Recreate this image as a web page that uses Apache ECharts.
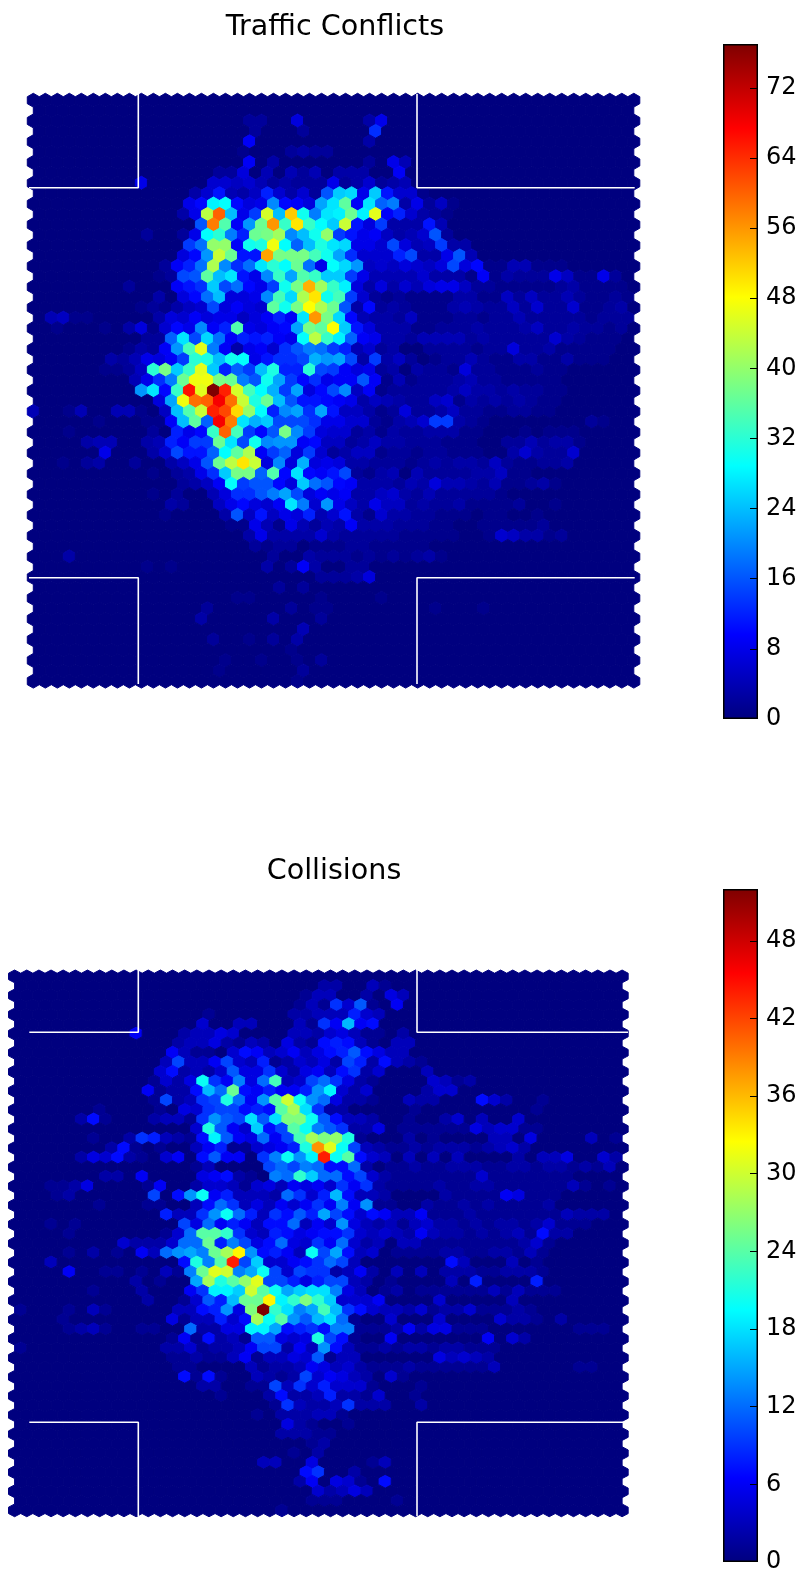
<!DOCTYPE html>
<html>
<head>
<meta charset="utf-8">
<style>html,body{margin:0;padding:0;background:#fff}#chart{width:800px;height:1574px}</style>
<script src="https://cdn.jsdelivr.net/npm/echarts@6/dist/echarts.min.js"></script>
</head>
<body>
<div id="chart"></div>
<script>
// Each row of the hex lattice: list of [startColumn, value, value, ...] runs; absent cells are 0.
const conflictRows = [
[],[],
[[18,2,2],[22,7],[28,3,8]],
[[18,2],[22,2],[28,13]],
[[18,9],[28,3]],
[[17,1],[21,2,3,2,2]],
[[18,9,0,3],[28,2,0,8,4]],
[[15,2,2,7,0,4,0,4,2,4,0,3,3,3,0,0,9]],
[[9,8],[15,6,6,5,6,4,2,3,2,2,2,8,2,3,6,2,3,4]],
[[13,3,6,11,4,3,5,12,6,3,6,2,16,25,26,8,25,11,6,6,1]],
[[13,8,10,28,29,10,7,8,20,10,9,7,22,27,36,9,27,17,19,3,8,2,5,1]],
[[12,3,8,43,60,24,8,14,45,24,52,30,19,27,28,37,28,46,9,12,6,3,2,1]],
[[14,16,58,35,9,21,37,56,33,50,33,29,25,44,11,7,14,3,3,3,11,4]],
[[9,2],[12,2,8,29,32,19,12,37,38,41,20,24,30,40,14,11,8,9,5,3,4,6,16,2]],
[[13,14,18,40,40,9,30,31,47,29,17,24,31,27,26,8,8,6,15,7,4,5,14,3,3]],
[[12,7,10,21,44,37,11,11,55,38,38,38,34,30,22,13,6,6,6,12,15,3,3,8,16,4]],
[[11,2,9,12,18,42,20,13,18,27,32,29,37,18,8,29,26,21,5,6,5,7,6,5,7,15,7,10,1],[40,4,4]],
[[10,1,2,15,16,36,24,27,11,8,20,33,22,35,33,25,25,14,8,4,4,4,4,6,3,3,3,1,9,1,3,2,2,2,8,5,1,1,8,2]],
[[8,2],[12,9,11,13,25,15,18,10,8,14,30,38,54,41,33,28,7,3,7,3,6,4,7,8,8,5,2,2,1],[44,2,3]],
[[10,3,0,7,10,18,24,7,7,8,20,34,26,42,50,30,34,14,6,2,1,2,1,1,1,1,3,3,1,0,5,0,5],[44,4]],
[[9,1,2,1,3,5,6,15,7,9,7,6,36,30,38,48,42,37,16,3,10,2,3],[35,3,4,3,2],[40,5,2,6],[45,6]],
[[1,4,5,1,1],[10,3,7,6,9,7,8,8,5,7,9,12,9,27,56,38,26,10,4,3,3,2,5,1],[35,2,2,1],[40,4,2],[44,2,2]],
[[2,1],[6,1],[8,3,7,1,6,10,8,20,9,12,35,8,7,9,10,22,38,36,48,25,11,7,3,3,3,1,1,2],[37,3,2],[41,3,5]],
[[9,2,2,17,27,15,26,18,9,12,11,12,9,8,29,43,33,28,17,9,8,3,3,2,4,4,4,4],[43,6,3]],
[[8,1,3,2,9,21,34,46,19,9,3,8,9,6,13,16,19,18,14,12,4,6,2,3],[39,2,7,2]],
[[6,3,2,4,8,7,9,14,32,31,24,30,29,8,11,13,13,15,23,21,22,15,3,14,3,5,2],[36,4],[40,3,3],[44,3]],
[[6,1,1,2,5,32,38,25,33,46,25,12,17,14,24,31,12,12,32,15,14,9,7,8,2,3,0,3],[34,2,0,7]],
[[8,4,8,13,19,37,47,47,38,37,19,16,30,22,14,10,13,8,9,9,16,9,1,4],[35,3,4,0,2]],
[[9,21,27,10,33,66,46,77,65,45,34,29,23,14,22,7,10,15,20,5,9,1,2],[36,5]],
[[10,7,22,47,59,60,68,59,44,31,37,24,16,11,11,10,9,8,3,5,4],[33,5,6,1,3,0,3],[40,3,0,1]],
[[0,4],[3,1,4],[7,4,4,1,0,5,24,35,44,65,62,51,40,29,12,20,22,13,22,11,5,5,3,1,2,7,2,2,3,5]],
[[5,1],[9,1,1,9,24,36,17,68,58,27,23,25,15,15,15,13,8,8,6,6,2,1,2],[32,6,14,14],[46,2]],
[[3,1],[10,2,0,12,8,10,33,60,34,14,10,16,38,20,14,7,6,6,2,3,1],[31,2],[35,3,1]],
[[4,3,4,4],[9,3,4,12,9,14,14,37,27,15,30,20,21,21,9,10,5,5,2,3,5,1],[41,4],[43,3,3]],
[[6,8],[10,3,6,15,11,11,17,29,36,42,9,14,17,7,14,6,2,3,5,5,1,2],[41,6,3,0,2,6]],
[[2,1],[4,2,3],[8,2],[11,3,5,8,16,37,43,50,44,7,20,7,23,7,8,7,3,3,2],[33,3],[35,3,3,0,5],[42,2],[44,3]],
[[10,1,0,2,3,8,13,25,38,38,17,35,10,27,10,9,11,15,2,1,3,4,0,4],[37,3,3,5]],
[[12,2,3,5,9,29,14,16,16,10,7,25,18,16,10,9,3,3,3],[31,4],[33,7,4,4],[38,4],[42,3]],
[[10,1,0,2],[15,4,7,13,13,16,19,22,15,7,9,8,9,3,3,5,6],[33,4]],
[[11,3,2],[15,5,8,10,7,6,9,27,19,6,21,8,5,3,8,5,5],[35,3],[40,2]],
[[11,1],[16,3,16,5,11,5,8,7,12,4,6,11,3,1,6,3]],
[[16,1,1,8,4,1,8,4,2,4,3,9,3,3]],
[[18,3,8,3,3,3,3,6,3,2,2,2],[39,6,5,3,3,0,2]],
[[18,2,1,2,2],[25,1],[28,1]],
[[3,3],[20,2],[23,3],[33,3]],
[[9,1],[11,1],[19,3],[21,2,9,3],[26,2,2]],
[[24,2,2,2,3,7]],
[[20,2],[22,2]],
[[17,1,1],[24,1],[29,1]],
[[14,2],[21,2],[23,1,1],[33,1],[37,1]],
[[14,3],[20,3],[24,2]],
[[22,4]],
[[15,2],[18,1],[20,2],[22,3]],
[[21,1]],
[[16,1],[19,1],[22,1],[24,2]],
[[15,1],[22,2]],
[[22,1]]
];
// Faint right-hand readings: [row, startColumn, value, ...]
const conflictFaint = [
[16,39,1,4,4,1,1,1],[18,40,1,1,1,1,2,3,1,1,1,1],[19,38,1,5,2,5,2,2,4,2,1,1,2,1],
[20,31,2,1,1,1,3,4,3,2,2,5,2,6,2,2,6,1,1,2,3],[21,33,1,1,2,2,1,2,2,4,2,2,2,2,2,1,2,2,2],
[22,35,2,2,3,2,2,2,3,5,2,2,3,2,2,1,2],[23,36,2,3,2,2,2,2,2,6,3,2,1,1,1],
[24,33,2,2,2,2,1,2,2,7,2,2,3,1,1,1,1,1],[25,33,1,2,2,4,2,1,1,3,3,1,1,3,1,1,1],
[26,33,2,2,1,7,2,2,1,1,1,2,1,1],[27,31,1,2,2,2,3,4,2,2,1,1,1,1,1],
[28,31,2,2,2,2,3,5,3,3,2,3,2,2,1,1],[29,30,3,2,2,5,6,1,3,2,3,2,3,2,1,1],
[30,36,2,2,1,1,2,2,1,1],[31,30,3,4,6,14,14,3,2,1],[31,46,2,1],[32,30,3,2,2,3,3,3,1,1],[32,41,1,0,1,1,1],
[33,29,3,3,2,2,2,1,1,1,0,0,2,2,4,2,3,3,1],[34,31,2,1,2,2,1,1,1,0,0,3,6,3,2,2,6],
[35,29,2,2,1,2,3,2,3,3,2,5,2,1,1,2,2,3],[36,33,2,2,2,2,3,3,5,1,1],
[37,30,2,4,3,7,4,4,3,2,4,1,1,2,3,1],[38,28,3,5,6,3,2,4,2,2,2,2,2,1],
[39,31,2,3,2,2,3,1,1,1,1,2],[39,43,1],[40,29,6,3,3,2,2,1,1,1,0,1,1],[40,42,1],
[41,29,3,2,2,2,1,1,0,0,1,1,1,1,1,2],[42,29,2,2,1,1,1,1,1,0,0,1,6,5,3,3,1,2],
[43,23,1,1,1,2,2,1,1,1,1,1],[44,24,2,2,2,1,2,1,2,1,2,3,1]
];
const collisionRows = [
[],
[[25,2,2],[29,3,1]],
[[24,1,3,3],[29,2],[31,5,3]],
[[23,1,3,1,9,4,11,1],[31,6]],
[[16,1],[23,2,2,3,3,3,8,4,3]],
[[15,4],[18,3,3],[23,3,1,9,6,16,6,7]],
[[10,6],[14,2,3,3,5,4],[23,3,3,2,4,5,3,1,1,0,2]],
[[13,2,3,3,5,2,1,3,2],[22,5,2,1,7,8,7,3,1],[31,3,3]],
[[13,6,3,1,1,0,4,7,6,3,4,6,3,5,7,8,11,7,5,3,3]],
[[12,3,10,3,3,6,10,4,3,8,1,2,4,3,5,2,10,8,2,7,3,2,1]],
[[12,4,7,2,3,2,4,11,5,5,9,4,2,5,6,3,7,9,2,4],[34,3]],
[[11,1,4,2,5,20,9,6,13,5,12,23,3,4,10,12,9,5,2,1],[34,4,3,1,2]],
[[11,6,1,2,2,7,16,12,25,7,6,8,6,6,8,14,19,4,2,4],[34,2,4,4]],
[[11,1,10,2,3,9,10,21,12,6,14,24,30,20,14,12,5,2,2,1],[32,3,2,2],[38,7,4,2],[43,1]],
[[7,1],[12,1,0,5,4,9,10,10,7,8,7,24,28,18,9,2,2],[33,1],[43,1]],
[[5,2,7,1],[11,2,3,3,1,9,14,11,10,18,11,18,26,26,20,11,7,3,3,2],[32,1],[35,2,4],[38,3],[41,4]],
[[15,4,21,11,6,4,17,7,10,24,20,13,11,9,2,2,5],[38,5,3,4,4]],
[[6,1],[9,2,9,8,3,2,1,7,19,11,6,5,12,6,10,23,28,26,27,21,1],[32,2],[34,1],[39,3,3],[42,5],[47,3],[49,1]],
[[8,2,7,1],[12,1],[15,3,6,8,1,1,4,5,6,8,21,38,31,20,10,3,2],[39,2,3,4]],
[[5,2,5,4,7,2,1],[12,4,6,0,7,11,6,6,0,9,13,20,14,19,44,20,24,7,4,3],[32,3],[34,3],[36,3],[41,2],[43,3,3,5],[48,4,2]],
[[15,1,3],[21,10,12,10,13,12,7,7,12,2],[48,1,3]],
[[7,2,2,0,6],[15,5,6,7,2,1,0,13,12,22,17,12,12,7,10,4,2,1],[38,4],[42,1],[45,1]],
[[3,1,1,2,5],[11,1,6],[15,2,4,4,3,1,4,5,3,6,5,6,4,9,6,9,2],[33,1],[37,1],[39,2],[46,3],[49,1]],
[[3,1,2],[11,10,0,7,14,20,6,8,3,3,3,2,12,9,4,8,16,7,3,3,2],[35,1],[40,6,5]],
[[7,1],[11,1,1,0,0,3,7,12,9,3,5,3,6,4,6,9,6,13,6,14,1],[34,1],[37,1],[39,2],[43,1,1]],
[[12,8,3,3,9,14,20,12,8,3,9,7,11,8,15,10,7,4,7,6,3,3,6],[45,3,1,1]],
[[3,1],[5,1],[14,10,5,12,6,8,6,3,7,7,12,3,6,4,14,5,3,2,3,1,3,4],[44,4]],
[[4,1],[12,1,4,12,24,24,22,9,4,3,8,7,5,6,7,7,9,4,3,4,3,2,6,3,2,2],[38,2],[40,2,3],[43,7,2]],
[[9,4,2,2,2,4,12,12,25,8,13,10,5,7,12,5,4,9,6,12,4,2,3],[32,3,3,1,1],[39,1],[43,4]],
[[4,1],[6,2],[8,1],[10,6,3,12,14,15,13,25,28,33,14,7,8,6,3,20,10,15,7,3,4],[31,1]],
[[3,3],[14,7,21,13,24,44,10,17,4,4,6,7,9,12,10,3],[36,7,3],[41,3],[43,1]],
[[4,6],[7,1,1],[10,1],[12,3,1,13,25,31,30,13,15,20,10,4,10,9,9,2,3,6,2,0,3],[33,3],[35,2]],
[[10,2,0,1],[15,15,28,21,24,27,31,10,10,8,5,8,10,10,3,2,0,1],[36,3,0,8],[43,8]],
[[6,1],[10,2],[14,6,9,19,19,17,30,24,20,15,17,18,18,13,5,3],[32,3],[39,3],[41,3],[44,1]],
[[11,2],[14,1,4,11,8,16,25,25,33,19,22,26,22,17,4,4,4,6],[35,4],[41,3]],
[[0,1],[4,1],[6,3,1],[13,3,3,7,8,14,5,26,52,22,18,13,15,23,16,9,7,4,3,3],[33,4],[37,4]],
[[4,1],[13,5,1,3,3,8,4,7,28,20,24,14,11,16,18,12,1],[31,4],[35,4],[40,4,2,2,1],[45,2]],
[[4,1,2,3,1],[10,1,1],[14,12,2,2,5,5,19,19,15,7,8,9,7,13,13,1],[32,6],[34,5,5],[38,1],[46,1,1,1]],
[[13,1,6,1,7,2,3,1,11,11,5,4,5,21,10,7,1],[31,6],[39,6],[41,4,2]],
[[0,1],[12,2,2,4,1,2,2,3,6,10,10,2,6,3,14,7,3,1]],
[[13,1,1,2,1,1,3,6,1,3,3,5,4,11,1,3,3],[35,5,3,4,3,2]],
[[13,1,1],[19,3,1,2,2,3,6,5,3,4,2],[33,1,1],[36,1],[38,1,3],[46,1,1]],
[[14,7,1,7,1],[20,3,2,1,2,10,4,6,5,3,2],[31,4,1]],
[[15,2,2],[19,1,1,10,3,9,4,8,4,4,4,1],[33,1]],
[[17,1],[21,2,7,2,2,3,8,2,2,1,4],[33,1]],
[[21,1,9,3,2,2,3,9,2,2,2],[33,2]],
[[20,1],[22,2,2,2,3,3,1]],
[[22,5,2,1],[27,1]],
[[22,2,2,2,1,1]],
[[24,1,2]],
[[23,1],[25,2]],
[[20,3,3],[24,5],[29,1,3]],
[[24,7,9],[28,2]],
[[23,2,6],[26,5,4,1],[30,7]],
[[25,4,2,3,5,3]],
[[24,1,1,1],[31,1]],
[[22,1]]
];
const collisionFaint = [
[16,32,1,1,1,1,1,1,5,3,4,4,1,1],[18,31,1,1,2,1,2,2,2,1,2,3,4,2],
[20,31,1,1,2,1,1,2,2,2,1,1,2,2,1,2,2,1,2,1,3],[21,32,1,1,1,1,1,1,4,1,1,1,1,1,1,1],
[22,31,1,1,1,1,2,1,1,2,2,1,1,1,1,1,1,3,1],[23,35,2,1,1,1,1,6,5,1,1,1],
[24,31,1],[24,34,2,1,1,2,1,2,1,1,1,1,2],[25,34,1,1,1,2,1,1,1,1,1,1,1,3,2,2,2],
[26,35,2,2,1,2,1,2,2,1,2,4,1,1,1],[27,37,1,2,1,2,3,1,7,2,2],[28,36,1,1,1,1,1,1,2,4,1],
[29,32,1,1,1,2,2,1,1,2,2,1,3,1],[31,36,2,2,1,1,2,2,2,1],[33,30,1,2,0,1,1,1,1,1,1,3,1,3,1,1],
[35,32,2,4,1,2,2,4,1,1,1,2,1],[37,29,1,1,2,6,2,5,5,1,1],[39,29,1,2,1,2,2,1,2,2,1,1,1],
[41,29,1,1,1,2,1,1,1,1,1]
];
const conflictTicks = [0,8,16,24,32,40,48,56,64,72];
const collisionTicks = [0,6,12,18,24,30,36,42,48];
const conflictMax = 77;
const collisionMax = 52;
const titles = ['Traffic Conflicts','Collisions'];
const jetColors = ['#00007f','#0000ff','#007fff','#00ffff','#7fff7f','#ffff00','#ff7f00','#ff0000','#7f0000'];
// Road edges, in the data units of each panel
const conflictRoads = [
  [[29,187.7],[138.3,187.7],[138.3,94]],
  [[417,94],[417,187.7],[634.7,187.7]],
  [[29,577.7],[138.3,577.7],[138.3,684]],
  [[417,684],[417,577.7],[634.7,577.7]]
];
const collisionRoads = [
  [[29.3,1032.3],[138.3,1032.3],[138.3,970]],
  [[417,970],[417,1032.3],[628,1032.3]],
  [[29.3,1422.3],[138.3,1422.3],[138.3,1516]],
  [[417,1516],[417,1422.3],[623,1422.3]]
];
// Hex lattice definition of each panel (data units)
const conflictLattice = {x0:33.3, y0:100.2, sx:12.01, sy:20.75};
const collisionLattice = {x0:14.6, y0:976.4, sx:12.15, sy:19.07};

function buildCells(rows, faint, lat){
  const out = [];
  for (let r = 0; r < 57; r++){
    const odd = r % 2 === 1, n = odd ? 50 : 51, vals = new Array(n).fill(0);
    (rows[r] || []).forEach(seg => { for (let k = 1; k < seg.length; k++) if (seg[0]+k-1 < n) vals[seg[0]+k-1] = seg[k]; });
    faint.filter(f => f[0] === r).forEach(f => { for (let k = 2; k < f.length; k++) if (f[1]+k-2 < n) vals[f[1]+k-2] = f[k]; });
    for (let i = 0; i < n; i++){
      out.push([lat.x0 + i*lat.sx + (odd ? lat.sx/2 : 0), lat.y0 + r*lat.sy/2, vals[i]]);
    }
  }
  return out;
}
function hexSeries(rows, faint, lat, axis, name){
  return {
    type:'custom', name, xAxisIndex:axis, yAxisIndex:axis, silent:true, animation:false, progressive:0,
    encode:{x:0,y:1}, data:buildCells(rows, faint, lat), z:2,
    renderItem:function(params, api){
      const c = api.coord([api.value(0), api.value(1)]);
      const s = api.size([lat.sx, lat.sy/3]);
      const hw = s[0]/2, t = s[1], h = t/2;
      const col = api.visual('color');
      return {type:'polygon', shape:{points:[[c[0]+hw,c[1]-h],[c[0]+hw,c[1]+h],[c[0],c[1]+t],[c[0]-hw,c[1]+h],[c[0]-hw,c[1]-h],[c[0],c[1]-t]]},
        style:{fill:col, stroke:col, lineWidth:1, lineJoin:'round'}};
    }
  };
}
function roadSeries(roads, axis){
  return roads.map(line => ({type:'line', xAxisIndex:axis, yAxisIndex:axis, data:line, showSymbol:false, silent:true, animation:false, z:5, clip:false,
    lineStyle:{color:'#ffffff', width:1.6}}));
}
function barSeries(axis, max){
  return {type:'bar', xAxisIndex:axis, yAxisIndex:axis, data:[max], barWidth:'100%', silent:true, animation:false, z:2,
    itemStyle:{borderColor:'#000', borderWidth:1.5, color:new echarts.graphic.LinearGradient(0,1,0,0,
      jetColors.map((c,i)=>({offset:i/(jetColors.length-1), color:c})))}};
}
function tickAxis(gridIndex, max, ticks){
  return {type:'value', gridIndex, position:'right', min:0, max, z:6, splitLine:{show:false}, axisLine:{show:false},
    axisTick:{show:true, inside:true, length:8, customValues:ticks.slice(1), lineStyle:{color:'#000', width:1}},
    axisLabel:{show:true, customValues:ticks, margin:8, padding:[8,0,0,0], fontFamily:'DejaVu Sans', fontSize:24, color:'#000'}};
}
const hidden = {show:false, splitLine:{show:false}};
const chart = echarts.init(document.getElementById('chart'), null, {renderer:'canvas'});
chart.setOption({
  animation:false,
  backgroundColor:'#fff',
  title:[
    {text:titles[0], left:330, top:8, textAlign:'center', textStyle:{fontFamily:'DejaVu Sans', fontWeight:'normal', fontSize:28.6, color:'#000'}},
    {text:titles[1], left:329, top:852, textAlign:'center', textStyle:{fontFamily:'DejaVu Sans', fontWeight:'normal', fontSize:28.6, color:'#000'}}
  ],
  grid:[
    {left:0, top:60, width:660, height:660},
    {left:0, top:950, width:660, height:590},
    {left:723, top:44, width:35, height:675},
    {left:723, top:889, width:35, height:675}
  ],
  xAxis:[
    {type:'value', gridIndex:0, min:0, max:660, ...hidden},
    {type:'value', gridIndex:1, min:0, max:660, ...hidden},
    {type:'category', gridIndex:2, data:['c'], show:false},
    {type:'category', gridIndex:3, data:['c'], show:false}
  ],
  yAxis:[
    {type:'value', gridIndex:0, min:60, max:720, inverse:true, ...hidden},
    {type:'value', gridIndex:1, min:950, max:1540, inverse:true, ...hidden},
    tickAxis(2, conflictMax, conflictTicks),
    tickAxis(3, collisionMax, collisionTicks)
  ],
  visualMap:[
    {show:false, seriesIndex:0, dimension:2, min:0, max:conflictMax, inRange:{color:jetColors}},
    {show:false, seriesIndex:1, dimension:2, min:0, max:collisionMax, inRange:{color:jetColors}}
  ],
  series:[
    hexSeries(conflictRows, conflictFaint, conflictLattice, 0, titles[0]),
    hexSeries(collisionRows, collisionFaint, collisionLattice, 1, titles[1]),
    ...roadSeries(conflictRoads, 0),
    ...roadSeries(collisionRoads, 1),
    barSeries(2, conflictMax),
    barSeries(3, collisionMax)
  ]
});
</script>
</body>
</html>
